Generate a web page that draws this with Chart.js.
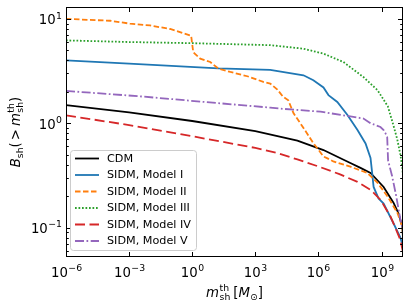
<!DOCTYPE html>
<html>
<head>
<meta charset="utf-8">
<script src="https://cdn.jsdelivr.net/npm/chart.js@4.4.1/dist/chart.umd.min.js"></script>
<style>
  html, body { margin: 0; padding: 0; background: #fff; }
  #wrap { width: 409px; height: 308px; position: relative; }
</style>
</head>
<body>
<div id="wrap"><canvas id="chart"></canvas></div>
<script>
// values: threshold subhalo mass [Msun] -> boost B_sh(>m)
const cdmMass = [1e-6, 1e-3, 1, 1e3, 1e5, 1.74e6, 1e7, 3.3e7, 1e8, 3e8, 1.26e9, 3.7e9, 6.3e9, 9.8e9, 1.05e10];
const cdmB    = [1.49, 1.27, 1.05, 0.84, 0.68, 0.553, 0.466, 0.416, 0.373, 0.334, 0.245, 0.173, 0.138, 0.102, 0.08];

const m1Mass = [1e-6, 1e-3, 17.4, 5.1e3, 1.95e5, 5.75e5, 1.74e6, 3.0e6, 7.9e6, 2.4e7, 7.2e7, 1.74e8, 3.0e8, 3.6e8, 4.2e8, 7.2e8, 1.26e9, 3.7e9, 7.9e9, 1.05e10];
const m1B    = [4.0, 3.73, 3.36, 3.25, 2.88, 2.58, 2.2, 1.86, 1.6, 1.2, 0.86, 0.64, 0.465, 0.333, 0.245, 0.19, 0.17, 0.11, 0.08, 0.065];

const m2Mass = [1e-6, 1.26e-4, 1.1e-3, 1e-2, 0.089, 0.89, 1.12, 2.4, 7.2, 17.4, 65, 417, 2.4e3, 5.1e3, 1.12e4, 2.1e4, 3.7e4, 6.5e4, 1.95e5, 5.75e5, 1.74e6, 2.7e6, 5.1e6, 3.3e7, 2.1e8, 6.5e8, 1.95e9, 5.75e9, 1e10, 1.05e10];
const m2B    = [10.0, 9.6, 9.0, 8.65, 8.0, 6.9, 4.8, 4.16, 3.86, 3.34, 3.1, 2.82, 2.49, 2.4, 2.1, 1.79, 1.66, 1.25, 0.9, 0.645, 0.48, 0.46, 0.43, 0.383, 0.334, 0.268, 0.198, 0.138, 0.1, 0.075];

const m3Mass = [1e-6, 1e-3, 1, 5.1e3, 1.95e5, 1.74e6, 1.55e7, 1.38e8, 6.5e8, 2e9, 3.7e9, 5.6e9, 7.9e9, 1e10, 1.05e10];
const m3B    = [6.22, 6.0, 5.85, 5.6, 5.18, 4.64, 3.86, 2.77, 2.07, 1.45, 0.95, 0.7, 0.5, 0.36, 0.3];

const m4Mass = [1e-6, 1e-3, 1, 1e3, 1e4, 1e5, 1e6, 1e7, 7.2e7, 3e8, 8.9e8, 2.7e9, 5e9, 7.9e9, 1.05e10];
const m4B    = [1.19, 0.96, 0.75, 0.58, 0.52, 0.45, 0.385, 0.325, 0.274, 0.23, 0.185, 0.127, 0.095, 0.076, 0.058];

const m5Mass = [1e-6, 3.3e-3, 5.1e3, 1.55e4, 1.26e6, 1.55e7, 1.38e8, 3.0e8, 8.9e8, 1.26e9, 1.55e9, 1.86e9, 2.05e9, 3.2e9, 5e9, 7.9e9, 9.8e9];
const m5B    = [2.04, 1.81, 1.41, 1.38, 1.29, 1.19, 1.11, 1.0, 0.92, 0.86, 0.80, 0.74, 0.44, 0.31, 0.2, 0.119, 0.1];

const seriesNames = ['CDM', 'SIDM, Model I', 'SIDM, Model II', 'SIDM, Model III', 'SIDM, Model IV', 'SIDM, Model V'];
const xTickExps = [-6, -3, 0, 3, 6, 9];
const yTickExps = [-1, 0, 1];

const FONT = "'DejaVu Sans', sans-serif";
const colors = ['#000000', '#1f77b4', '#ff7f0e', '#2ca02c', '#d62728', '#9467bd'];
const dashes = [[], [], [5.5, 2.5], [1.7, 1.8], [10, 4.5], [9, 2.5, 1.7, 2.5]];

const pts = (ms, bs) => ms.map((m, i) => ({ x: m, y: bs[i] }));
const allData = [pts(cdmMass, cdmB), pts(m1Mass, m1B), pts(m2Mass, m2B), pts(m3Mass, m3B), pts(m4Mass, m4B), pts(m5Mass, m5B)];

// superscript-style "10^e" label
function powLabel(ctx, e, size) {
  const base = '10', ex = e < 0 ? '\u2212' + (-e) : String(e);
  ctx.font = size + 'px ' + FONT;
  const wb = ctx.measureText(base).width;
  ctx.font = (size * 0.7) + 'px ' + FONT;
  const we = ctx.measureText(ex).width;
  return { base, ex, wb, we, w: wb + we + 0.5 };
}
function drawPow(ctx, e, size, x, y) {
  const l = powLabel(ctx, e, size);
  ctx.textAlign = 'left';
  ctx.textBaseline = 'alphabetic';
  ctx.font = size + 'px ' + FONT;
  ctx.fillText(l.base, x, y);
  ctx.font = (size * 0.7) + 'px ' + FONT;
  ctx.fillText(l.ex, x + l.wb + 0.5, y - size * 0.42);
}

// runs of math-like text; stack = [sup, sub] sharing one slot
function measureRuns(ctx, runs) {
  let w = 0;
  runs.forEach(r => {
    if (r.stack) {
      ctx.font = r.size + 'px ' + FONT;
      w += Math.max(ctx.measureText(r.stack[0]).width, ctx.measureText(r.stack[1]).width);
    } else {
      ctx.font = (r.it ? 'italic ' : '') + r.size + 'px ' + FONT;
      w += ctx.measureText(r.t).width;
    }
    w += r.pad || 0;
  });
  return w;
}
function drawRuns(ctx, runs, x, y) {
  ctx.textAlign = 'left';
  ctx.textBaseline = 'alphabetic';
  runs.forEach(r => {
    if (r.stack) {
      ctx.font = r.size + 'px ' + FONT;
      ctx.fillText(r.stack[0], x, y - 6);
      ctx.fillText(r.stack[1], x, y + 3);
      x += Math.max(ctx.measureText(r.stack[0]).width, ctx.measureText(r.stack[1]).width);
    } else {
      ctx.font = (r.it ? 'italic ' : '') + r.size + 'px ' + FONT;
      ctx.fillText(r.t, x, y + (r.dy || 0));
      x += ctx.measureText(r.t).width;
    }
    x += r.pad || 0;
  });
}

const TS = 13.3, SS = 9.3;
const xTitle = [
  { t: 'm', it: true, size: TS, pad: 0.5 },
  { stack: ['th', 'sh'], size: SS, pad: 3 },
  { t: '[', size: TS },
  { t: 'M', it: true, size: TS },
  { t: '\u2299', size: SS, dy: 3 },
  { t: ']', size: TS }
];
const yTitle = [
  { t: 'B', it: true, size: TS },
  { t: 'sh', size: SS, dy: 3 },
  { t: '(', size: TS, pad: 2 },
  { t: '>', size: TS, pad: 3 },
  { t: 'm', it: true, size: TS, pad: 0.5 },
  { stack: ['th', 'sh'], size: SS },
  { t: ')', size: TS }
];

const decor = {
  id: 'decor',
  afterDatasetsDraw(chart) {
    const { ctx, chartArea: a, scales: { x, y } } = chart;
    const L = Math.round(a.left), R = Math.round(a.right), T = Math.round(a.top), B = Math.round(a.bottom);
    ctx.save();
    ctx.strokeStyle = '#000';
    ctx.fillStyle = '#000';
    ctx.lineWidth = 1;
    const seg = (x0, y0, x1, y1) => { ctx.beginPath(); ctx.moveTo(x0, y0); ctx.lineTo(x1, y1); ctx.stroke(); };

    // x ticks (inward, bottom and top)
    xTickExps.forEach(e => {
      const px = Math.round(x.getPixelForValue(Math.pow(10, e))) + 0.5;
      seg(px, B, px, B - 5);
      seg(px, T, px, T + 5);
      const l = powLabel(ctx, e, TS);
      drawPow(ctx, e, TS, px - l.w / 2, B + 20);
    });
    // y ticks, major + minor
    for (let e = -2; e <= 1; e++) {
      for (let k = 1; k <= 9; k++) {
        const v = k * Math.pow(10, e);
        if (v < y.min || v > y.max) continue;
        const py = Math.round(y.getPixelForValue(v)) + 0.5;
        const len = k === 1 ? 5 : 2.8;
        seg(L, py, L + len, py);
        seg(R, py, R - len, py);
      }
    }
    yTickExps.forEach(e => {
      const py = y.getPixelForValue(Math.pow(10, e));
      const l = powLabel(ctx, e, TS);
      drawPow(ctx, e, TS, L - 4 - l.w, py + 5.5);
    });
    // frame
    ctx.strokeRect(L + 0.5, T + 0.5, R - L - 1, B - T - 1);

    // axis titles
    const wx = measureRuns(ctx, xTitle);
    drawRuns(ctx, xTitle, (L + R) / 2 - wx / 2, 297);
    const wy = measureRuns(ctx, yTitle);
    ctx.save();
    ctx.translate(20, (T + B) / 2);
    ctx.rotate(-Math.PI / 2);
    drawRuns(ctx, yTitle, -wy / 2, 0);
    ctx.restore();

    // legend
    const lx = 70.5, ly = 150.5, lw = 126, lh = 100, rad = 3;
    ctx.beginPath();
    ctx.roundRect(lx, ly, lw, lh, rad);
    ctx.fillStyle = 'rgba(255,255,255,0.8)';
    ctx.fill();
    ctx.strokeStyle = '#cccccc';
    ctx.stroke();
    chart.data.datasets.forEach((ds, i) => {
      const yy = 158.5 + i * 16.5;
      ctx.strokeStyle = ds.borderColor;
      ctx.lineWidth = ds.borderWidth;
      ctx.setLineDash(ds.borderDash || []);
      seg(75, yy, 99, yy);
      ctx.setLineDash([]);
      ctx.fillStyle = '#000';
      ctx.font = '11.2px ' + FONT;
      ctx.textAlign = 'left';
      ctx.textBaseline = 'middle';
      ctx.fillText(ds.label, 107, yy + 0.5);
    });
    ctx.restore();
  }
};

new Chart(document.getElementById('chart'), {
  type: 'line',
  data: {
    datasets: allData.map((d, i) => ({
      label: seriesNames[i],
      data: d,
      borderColor: colors[i],
      borderWidth: 1.8,
      borderDash: dashes[i],
      pointRadius: 0,
      fill: false,
      tension: 0,
      order: 6 - i
    }))
  },
  options: {
    responsive: true,
    maintainAspectRatio: false,
    animation: false,
    layout: { padding: { left: 66, right: 6, top: 7, bottom: 51 } },
    plugins: { legend: { display: false }, tooltip: { enabled: false } },
    scales: {
      x: { type: 'logarithmic', min: 1e-6, max: 1.05e10, display: false },
      y: { type: 'logarithmic', min: 0.0522, max: 13.0, display: false }
    }
  },
  plugins: [decor]
});
</script>
</body>
</html>
